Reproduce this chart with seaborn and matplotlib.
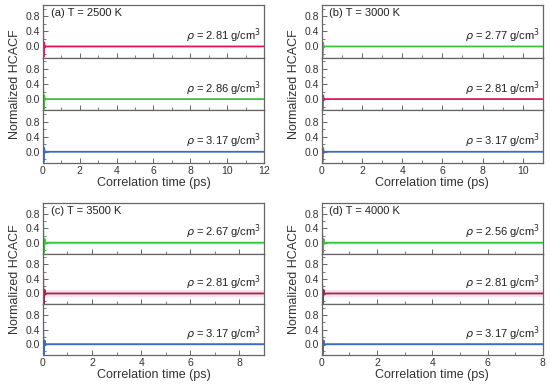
"""Normalized HCACF vs correlation time, four temperatures x three densities."""

import matplotlib
matplotlib.use("Agg")
import matplotlib.pyplot as plt
from matplotlib.ticker import MultipleLocator
import pandas as pd
import seaborn as sns

sns.set_style("ticks")
plt.rcParams["font.family"] = ["Liberation Sans", "DejaVu Sans"]

# --- data -----------------------------------------------------------------
panel_tags = ["(a) T = 2500 K", "(b) T = 3000 K", "(c) T = 3500 K", "(d) T = 4000 K"]
panel_tmax = [12, 11, 9, 8]
panel_densities = [
    [2.81, 2.86, 3.17],
    [2.77, 2.81, 3.17],
    [2.67, 2.81, 3.17],
    [2.56, 2.81, 3.17],
]
# colour key for each sub-row: r = red, g = green, b = blue, m = dark red
panel_colors = [
    ["r", "g", "b"],
    ["g", "r", "b"],
    ["g", "m", "b"],
    ["g", "m", "b"],
]
# faint noise envelope seen in (c) and (d)
panel_band = [
    [0.0, 0.0, 0.0],
    [0.0, 0.0, 0.0],
    [0.06, 0.1, 0.04],
    [0.06, 0.1, 0.04],
]

# HCACF decays within a few tens of fs, then sits on zero
spike_t = [0.0, 0.01, 0.02, 0.035, 0.05, 0.07, 0.1, 0.15]
spike_v = [1.0, 0.55, 0.05, -0.28, -0.05, 0.1, -0.03, 0.0]

color_map = {"r": "#e2145a", "g": "#3cc43c", "b": "#3b6cc4", "m": "#a3234a"}
band_map = {"r": "#fde3ec", "g": "#e0f9f6", "b": "#e6f2fb", "m": "#fde3ec"}

# --- layout ---------------------------------------------------------------
fig = plt.figure(figsize=(5.5, 3.91), dpi=100)
lefts = [0.078, 0.585, 0.078, 0.585]
tops = [0.987, 0.987, 0.481, 0.481]
bottoms = [0.583, 0.583, 0.092, 0.092]
width = 0.402
edge = "#666666"

for i in range(4):
    sub_h = (tops[i] - bottoms[i]) / 3
    tmax = panel_tmax[i]
    axes = []
    for j in range(3):
        ax = fig.add_axes([lefts[i], tops[i] - (j + 1) * sub_h, width, sub_h])
        axes.append(ax)
        key = panel_colors[i][j]
        df = pd.DataFrame({"t": spike_t + [tmax], "v": spike_v + [0.0]})
        hw = panel_band[i][j]
        if hw > 0:
            ax.fill_between([0, tmax], [-hw, -hw], [hw, hw],
                            color=band_map[key], lw=0, zorder=0)
        sns.lineplot(data=df, x="t", y="v", ax=ax, color=color_map[key],
                     lw=1.3, estimator=None, sort=False)
        ax.set_xlim(0, tmax)
        ax.set_ylim(-0.3, 1.1)
        ax.yaxis.set_major_locator(MultipleLocator(0.4))
        ax.yaxis.set_minor_locator(MultipleLocator(0.2))
        ax.xaxis.set_major_locator(MultipleLocator(2))
        ax.xaxis.set_minor_locator(MultipleLocator(1))
        ax.set_yticks([0.0, 0.4, 0.8])
        ax.set_yticklabels(["0.0", "0.4", "0.8"])
        ax.tick_params(axis="both", which="both", direction="in",
                       labelsize=7.5, color=edge, labelcolor="#333333", pad=2)
        ax.tick_params(which="major", length=3.5, width=0.7)
        ax.tick_params(which="minor", length=2, width=0.6)
        for s in ax.spines.values():
            s.set_color(edge)
            s.set_linewidth(0.9)
        ax.set_xlabel("")
        ax.set_ylabel("")
        if j < 2:
            ax.tick_params(axis="x", labelbottom=False)
        ax.text(0.985, 0.24,
                r"$\rho$" + f" = {panel_densities[i][j]:.2f} g/cm$^3$",
                transform=ax.transAxes, ha="right", va="bottom",
                fontsize=8, color="#222222")
    axes[0].text(0.035, 0.94, panel_tags[i], transform=axes[0].transAxes,
                 ha="left", va="top", fontsize=8, color="#222222")
    axes[2].set_xlabel("Correlation time (ps)", fontsize=9, labelpad=1,
                       color="#333333")
    axes[1].set_ylabel("Normalized HCACF", fontsize=9, labelpad=3,
                       color="#333333")

fig.savefig("out.png", dpi=100)
plt.close(fig)
